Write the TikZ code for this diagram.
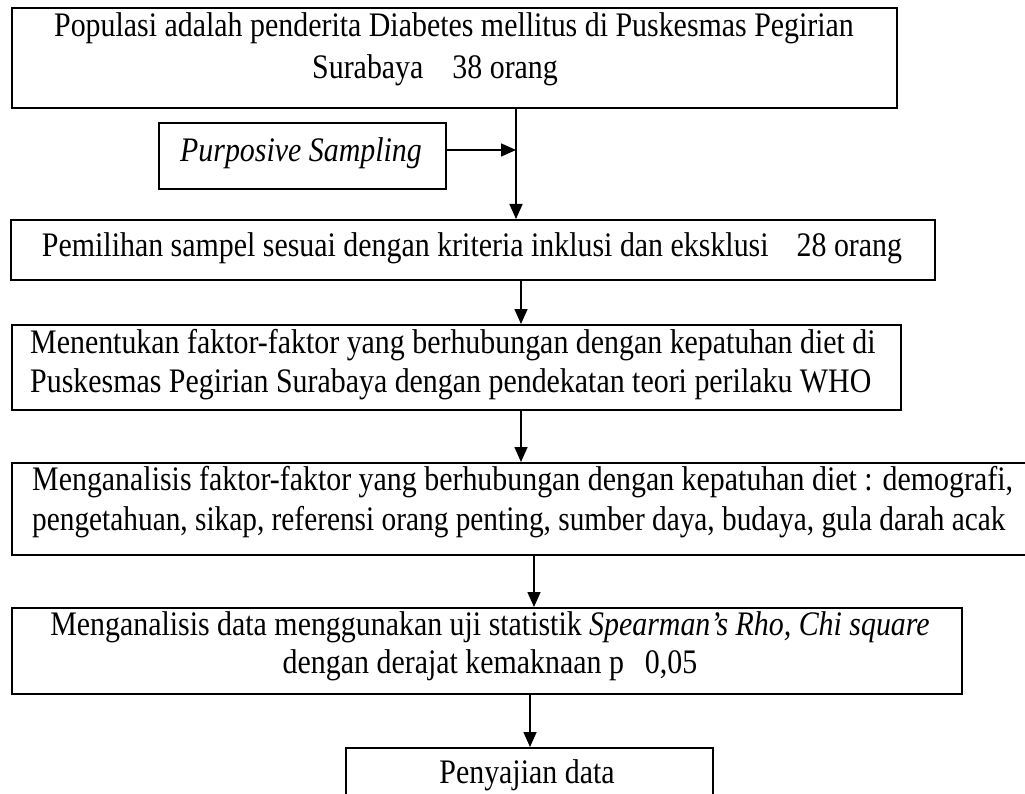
\documentclass[tikz,border=0pt]{standalone}
\usepackage{fontspec}
\usepackage{graphicx}
\setmainfont{Liberation Serif}
\usetikzlibrary{arrows.meta}
% text is set a little taller than wide
\newcommand{\tall}[1]{\scalebox{1}[1.15]{#1}}
\newcommand{\talln}[2]{\scalebox{#1}[1.15]{#2}}
\begin{document}
\begin{tikzpicture}[x=1pt,y=-1pt,
  box/.style={draw, line width=1.8pt, rectangle, inner sep=0pt, anchor=north west},
  txt/.style={anchor=base, inner sep=0pt, font=\fontsize{29.9}{36}\selectfont},
  txtl/.style={txt, anchor=base west},
  conn/.style={line width=1.6pt, -{Triangle[length=15pt,width=13pt]}}]
\useasboundingbox (0,0) rectangle (1025,794);
\clip (0,0) rectangle (1025,794);

% boxes
\node[box, minimum width=885pt, minimum height=100pt] (b1) at (11,7) {};
\node[box, minimum width=287pt, minimum height=66pt] (ps) at (158,122) {};
\node[box, minimum width=924pt, minimum height=60pt] (b2) at (10,219) {};
\node[box, minimum width=889pt, minimum height=85pt] (b3) at (11,324) {};
\node[box, minimum width=1020pt, minimum height=92pt] (b4) at (11,462) {};
\node[box, minimum width=950pt, minimum height=86pt] (b5) at (11,607) {};
\node[box, minimum width=367pt, minimum height=90pt] (b6) at (345,747) {};

% texts
\node[txt] (t1a) at (454,37) {\tall{Populasi adalah penderita Diabetes mellitus di Puskesmas Pegirian}};
\node[txtl] (t1b) at (312,79) {\tall{Surabaya\hspace{29pt}38 orang}};
\node[txt] (tps) at (301,162) {\tall{\itshape Purposive Sampling}};
\node[txt] (t2) at (472,257) {\tall{Pemilihan sampel sesuai dengan kriteria inklusi dan eksklusi\hspace{28pt}28 orang}};
\node[txtl] (t3a) at (30,353) {\tall{Menentukan faktor-faktor yang berhubungan dengan kepatuhan diet di}};
\node[txtl] (t3b) at (30,392) {\tall{Puskesmas Pegirian Surabaya dengan pendekatan teori perilaku WHO}};
\node[txtl] (t4a) at (32,490) {\tall{Menganalisis faktor-faktor yang berhubungan dengan kepatuhan diet : demografi,}};
\node[txtl] (t4b) at (32,530) {\talln{0.981}{pengetahuan, sikap, referensi orang penting, sumber daya, budaya, gula darah acak}};
\node[txt] (t5a) at (490,635) {\tall{Menganalisis data menggunakan uji statistik \textit{Spearman’s Rho, Chi square}}};
\node[txt] (t5b) at (490,673) {\tall{dengan derajat kemaknaan p\hspace{21pt}0,05}};
\node[txt] (t6) at (527,783) {\tall{Penyajian data}};

% connector columns and the side arrow's row
\coordinate (x1) at (516,0);
\coordinate (x2) at (521,0);
\coordinate (x4) at (534,0);
\coordinate (x5) at (530,0);
\coordinate (yp) at (0,150);

\draw[conn] (x1 |- b1.south) -- (x1 |- b2.north);
\draw[conn] (ps.east |- yp) -- (x1 |- yp);
\draw[conn] (x2 |- b2.south) -- (x2 |- b3.north);
\draw[conn] (x2 |- b3.south) -- (x2 |- b4.north);
\draw[conn] (x4 |- b4.south) -- (x4 |- b5.north);
\draw[conn] (x5 |- b5.south) -- (x5 |- b6.north);
\end{tikzpicture}
\end{document}
